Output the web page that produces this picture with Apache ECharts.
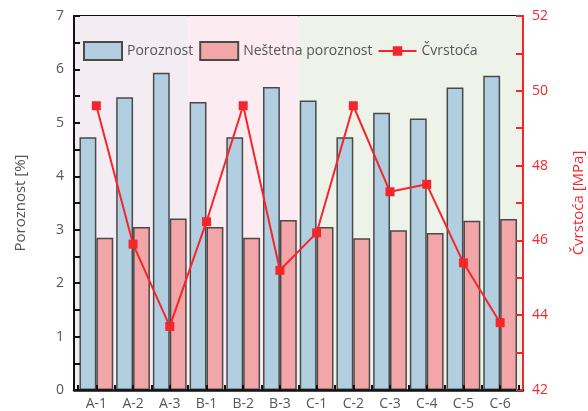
<!DOCTYPE html>
<html>
<head>
<meta charset="utf-8">
<script src="https://cdn.jsdelivr.net/npm/echarts@6/dist/echarts.min.js"></script>
<style>
  html, body { margin: 0; padding: 0; background: #fff; }
  #chart { width: 588px; height: 411px; }
</style>
</head>
<body>
<div id="chart"></div>
<script>
// Sample labels
const categories = ['A-1', 'A-2', 'A-3', 'B-1', 'B-2', 'B-3', 'C-1', 'C-2', 'C-3', 'C-4', 'C-5', 'C-6'];
// Total porosity [%]
const porosity = [4.73, 5.48, 5.94, 5.39, 4.73, 5.67, 5.42, 4.73, 5.19, 5.08, 5.66, 5.88];
// Harmful porosity [%]
const harmfulPorosity = [2.85, 3.05, 3.21, 3.05, 2.85, 3.18, 3.05, 2.84, 2.99, 2.94, 3.17, 3.20];
// Strength [MPa]
const strength = [49.6, 45.9, 43.7, 46.5, 49.6, 45.2, 46.2, 49.6, 47.3, 47.5, 45.4, 43.8];
// Sample groups shaded behind the bars (category index ranges)
const groups = [
  { from: 0, to: 2, color: '#f3ecf3' },
  { from: 3, to: 5, color: '#fcecf1' },
  { from: 6, to: 11, color: '#eef3ea' }
];

const FONT = 'Open Sans';
const GRAY = '#555555';
const RED = '#f5262b';

// Legend icon for the strength series: a thin line with a square marker
const LINE_ICON = 'path://M0,8L15,8L15,4L25,4L25,8L40,8L40,10L25,10L25,14L15,14L15,10L0,10Z';

// The frame grid is a few pixels wider than the category grid
const PAD_L = 4 / 36.7, PAD_R = 4.5 / 36.7;
const XMIN = -0.5 - PAD_L, XMAX = categories.length - 0.5 + PAD_R;

const bandData = groups.map(g => [
  { xAxis: g.from === 0 ? XMIN : g.from - 0.5, itemStyle: { color: g.color } },
  { xAxis: g.to === categories.length - 1 ? XMAX : g.to + 0.5 }
]);

const chart = echarts.init(document.getElementById('chart'), null, { renderer: 'canvas' });

chart.setOption({
  backgroundColor: '#ffffff',
  animation: false,
  textStyle: { fontFamily: FONT },
  legend: {
    top: 36,
    left: 78,
    itemWidth: 38,
    itemHeight: 18,
    itemGap: 6,
    textStyle: { color: GRAY, fontSize: 14, fontFamily: FONT },
    data: [
      { name: 'Poroznost', icon: 'rect' },
      { name: 'Neštetna poroznost', icon: 'rect' },
      { name: 'Čvrstoća', icon: LINE_ICON }
    ]
  },
  grid: [
    { left: 74, right: 65, top: 16, bottom: 21, outerBoundsMode: 'none', containLabel: false },
    { left: 78, right: 69.5, top: 16, bottom: 21, outerBoundsMode: 'none', containLabel: false }
  ],
  xAxis: [
    { // frame bottom line
      type: 'value', gridIndex: 0, min: XMIN, max: XMAX, position: 'bottom', z: 5,
      axisLine: { show: true, onZero: false, lineStyle: { color: '#111', width: 2.5 } },
      axisTick: { show: false }, axisLabel: { show: false }, splitLine: { show: false }
    },
    { // frame top line
      type: 'value', gridIndex: 0, min: 0, max: 1, position: 'top',
      axisLine: { show: true, onZero: false, lineStyle: { color: '#111', width: 2 } },
      axisTick: { show: false }, axisLabel: { show: false }, splitLine: { show: false }
    },
    { // categories: labels and boundary ticks
      type: 'category', gridIndex: 1, data: categories, position: 'bottom', z: 5,
      axisLine: { show: false, onZero: false },
      axisTick: { show: true, inside: true, length: 5, lineStyle: { color: '#111', width: 2 } },
      axisLabel: { color: GRAY, fontSize: 14, margin: 7, fontFamily: FONT }
    },
    { // categories: centre ticks
      type: 'category', gridIndex: 1, data: categories, position: 'bottom', z: 5,
      axisLine: { show: false, onZero: false },
      axisTick: { show: true, inside: true, alignWithLabel: true, length: 5, lineStyle: { color: '#111', width: 2 } },
      axisLabel: { show: false }
    }
  ],
  yAxis: [
    {
      type: 'value', gridIndex: 0, position: 'left', min: 0, max: 7, interval: 1, z: 5,
      name: 'Poroznost [%]', nameLocation: 'middle', nameGap: 46, nameRotate: 90,
      nameTextStyle: { color: GRAY, fontSize: 15, fontFamily: FONT },
      axisLine: { show: true, onZero: false, lineStyle: { color: '#111', width: 2 } },
      axisTick: { show: true, inside: true, length: 6, lineStyle: { color: '#111', width: 2 } },
      minorTick: { show: true, splitNumber: 2, length: 6, lineStyle: { color: '#111', width: 2 } },
      axisLabel: { color: GRAY, fontSize: 14, margin: 10, fontFamily: FONT },
      splitLine: { show: false }
    },
    {
      type: 'value', gridIndex: 0, position: 'right', min: 42, max: 52, interval: 2, z: 5,
      name: 'Čvrstoća [MPa]', nameLocation: 'middle', nameGap: 48, nameRotate: 90,
      nameTextStyle: { color: RED, fontSize: 15, fontFamily: FONT },
      axisLine: { show: true, onZero: false, lineStyle: { color: RED, width: 2 } },
      axisTick: { show: true, inside: true, length: 7, lineStyle: { color: RED, width: 2 } },
      minorTick: { show: true, splitNumber: 2, length: 7, lineStyle: { color: RED, width: 2 } },
      axisLabel: { color: RED, fontSize: 14, margin: 9, fontFamily: FONT },
      splitLine: { show: false }
    },
    { type: 'value', gridIndex: 1, min: 0, max: 7, show: false },
    { type: 'value', gridIndex: 1, min: 42, max: 52, show: false }
  ],
  series: [
    { // group shading
      type: 'line', xAxisIndex: 0, yAxisIndex: 0, data: [], silent: true, z: 0,
      markArea: { silent: true, data: bandData }
    },
    {
      name: 'Poroznost', type: 'bar', xAxisIndex: 2, yAxisIndex: 2,
      data: porosity, barGap: '0%', barCategoryGap: '8%', z: 2,
      itemStyle: { color: '#b1cfe0', borderColor: '#4a4a4a', borderWidth: 1.5 }
    },
    {
      name: 'Neštetna poroznost', type: 'bar', xAxisIndex: 2, yAxisIndex: 2,
      data: harmfulPorosity, barGap: '0%', barCategoryGap: '8%', z: 2,
      itemStyle: { color: '#f2a6a7', borderColor: '#4a4a4a', borderWidth: 1.5 }
    },
    {
      name: 'Čvrstoća', type: 'line', xAxisIndex: 2, yAxisIndex: 3,
      data: strength, z: 6,
      symbol: 'rect', symbolSize: 9,
      itemStyle: { color: RED },
      lineStyle: { color: RED, width: 2 }
    }
  ]
});
</script>
</body>
</html>
